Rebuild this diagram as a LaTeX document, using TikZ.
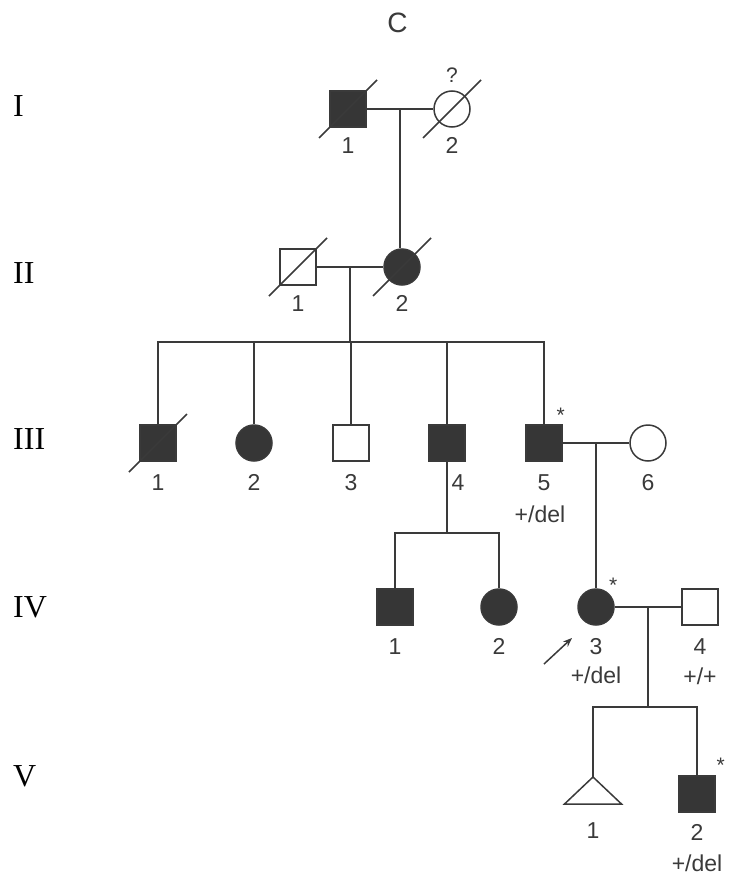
\documentclass[tikz,border=0pt]{standalone}
\usepackage{fontspec}
\setmainfont{Liberation Serif}
\setsansfont{Liberation Sans}
\usetikzlibrary{positioning,arrows.meta}
\definecolor{pedline}{HTML}{3A3A3A}
\definecolor{pedfill}{HTML}{363636}
% slash through a deceased individual
\newcommand{\deadslash}[1]{\draw[kin] ([shift={(-29,29)}]#1.center) -- ([shift={(29,-29)}]#1.center);}
\begin{document}
\begin{tikzpicture}[x=1pt, y=-1pt, >={Stealth[length=9pt,width=7pt]}]
	\tikzset{kin/.style={draw=pedline, line width=1.5pt},
		male/.style={kin, rectangle, minimum size=36pt, inner sep=0pt},
		female/.style={kin, circle, minimum size=36pt, inner sep=0pt},
		affected/.style={fill=pedfill},
		num/.style={font=\sffamily\fontsize{23}{23}\selectfont, text=pedline, inner sep=0pt, text height=17pt, text depth=0pt},
		gen/.style={font=\fontsize{32}{32}\selectfont, anchor=base west, inner sep=0pt},
		seqmark/.style={font=\sffamily\fontsize{21}{21}\selectfont, text=pedline, inner sep=0pt, anchor=base}}
	\useasboundingbox (0,0) rectangle (729,878);
	\node[font=\sffamily\fontsize{28}{28}\selectfont, text=pedline, inner sep=0pt, anchor=base] (title) at (397.5,32) {C};
	% generations
	\node[gen] (gI) at (13,116) {I};
	\node[gen] (gII) at (13,283) {II};
	\node[gen] (gIII) at (13,449) {III};
	\node[gen] (gIV) at (13,617) {IV};
	\node[gen] (gV) at (13,786) {V};
	% individuals
	\node[male, affected] (i1) at (348,109) {};
	\node[female] (i2) at (452,109) {};
	\node[male] (ii1) at (298,267) {};
	\node[female, affected] (ii2) at (402,267) {};
	\node[male, affected] (iii1) at (158,443) {};
	\node[female, affected] (iii2) at (254,443) {};
	\node[male] (iii3) at (351,443) {};
	\node[male, affected] (iii4) at (447,443) {};
	\node[male, affected] (iii5) at (544,443) {};
	\node[female] (iii6) at (648,443) {};
	\node[male, affected] (iv1) at (395,607) {};
	\node[female, affected] (iv2) at (499,607) {};
	\node[female, affected] (iv3) at (596,607) {};
	\node[male] (iv4) at (700,607) {};
	\coordinate (v1) at (593,777);
	\draw[kin] (v1) -- ++(-28.5,27) -- ++(57,0) -- cycle;
	\node[male, affected] (v2) at (697,794) {};
	\deadslash{i1} \deadslash{i2} \deadslash{ii1} \deadslash{ii2} \deadslash{iii1}
	% numbers
	\node[num, below=9pt of i1] (i1n) {1};
	\node[num, below=9pt of i2] (i2n) {2};
	\node[num, below=9pt of ii1] (ii1n) {1};
	\node[num, below=9pt of ii2] (ii2n) {2};
	\node[num, below=11.5pt of iii1] (iii1n) {1};
	\node[num, below=11.5pt of iii2] (iii2n) {2};
	\node[num, below=11.5pt of iii3] (iii3n) {3};
	\node[num, below=11.5pt of iii4, xshift=11pt] (iii4n) {4};
	\node[num, below=11.5pt of iii5] (iii5n) {5};
	\node[num, below=11.5pt of iii6] (iii6n) {6};
	\node[num, below=11.5pt of iv1] (iv1n) {1};
	\node[num, below=11.5pt of iv2] (iv2n) {2};
	\node[num, below=11.5pt of iv3] (iv3n) {3};
	\node[num, below=11.5pt of iv4] (iv4n) {4};
	\node[num, below=44.5pt of v1] (v1n) {1};
	\node[num, below=10.5pt of v2] (v2n) {2};
	% genotypes
	\node[num, below=15pt of iii5n, xshift=-4pt] (iii5g) {+/del};
	\node[num, below=12pt of iv3n] (iv3g) {+/del};
	\node[num, below=13pt of iv4n] (iv4g) {+/+};
	\node[num, below=14pt of v2n] (v2g) {+/del};
	% marks
	\node[seqmark, above=8pt of i2] (i2q) {?};
	\node[seqmark] (iii5s) at ([shift={(-2,-1.3)}]iii5.north east) {*};
	\node[seqmark] (iv3s) at ([shift={(4,-1.6)}]iv3.north east) {*};
	\node[seqmark] (v2s) at ([shift={(5,-2.3)}]v2.north east) {*};
	% lines of descent
	\draw[kin] (i1) -- coordinate (m1) (i2);
	\draw[kin] (m1) -- (m1 |- ii2.north);
	\draw[kin] (ii1) -- coordinate (m2) (ii2);
	\coordinate (s3) at (m2 |- 0,342);
	\draw[kin] (m2) -- (s3);
	\draw[kin] (iii1.north) |- (s3) -| (iii5.north);
	\foreach \c in {iii2,iii3,iii4}
		\draw[kin] (\c.north) -- (\c |- s3);
	\draw[kin] (iii5) -- coordinate (m3) (iii6);
	\draw[kin] (m3) -- (m3 |- iv3.north);
	\coordinate (s4) at (iii4 |- 0,533);
	\draw[kin] (iii4.south) -- (s4);
	\draw[kin] (iv1.north) |- (s4) -| (iv2.north);
	\draw[kin] (iv3) -- coordinate (m4) (iv4);
	\coordinate (s5) at (m4 |- 0,707);
	\draw[kin] (m4) -- (s5);
	\draw[kin] (v1) |- (s5) -| (v2.north);
	% proband
	\coordinate (pb1) at ([shift={(-52,57)}]iv3.center);
	\coordinate (pb2) at ([shift={(-24,31)}]iv3.center);
	\draw[kin, ->] (pb1) -- (pb2);
\end{tikzpicture}
\end{document}
